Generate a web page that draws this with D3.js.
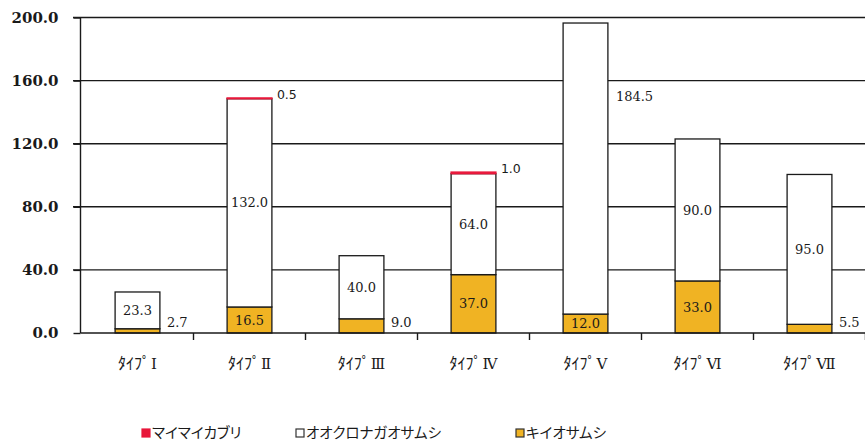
<!DOCTYPE html>
<html>
<head>
<meta charset="utf-8">
<script src="https://cdn.jsdelivr.net/npm/d3@7"></script>
<style>
  html, body { margin: 0; padding: 0; background: #ffffff; }
  svg { display: block; }
</style>
</head>
<body>
<svg id="chart" width="865" height="442"></svg>
<script>
// Categories (beetle habitat types)
const categories = ["ﾀｲﾌﾟ Ⅰ", "ﾀｲﾌﾟ Ⅱ", "ﾀｲﾌﾟ Ⅲ", "ﾀｲﾌﾟ Ⅳ", "ﾀｲﾌﾟ Ⅴ", "ﾀｲﾌﾟ Ⅵ", "ﾀｲﾌﾟ Ⅶ"];

// Series values, stacked bottom to top: キイオサムシ, オオクロナガオサムシ, マイマイカブリ
const kiioValues     = [2.7, 16.5, 9.0, 37.0, 12.0, 33.0, 5.5];
const ookuronaValues = [23.3, 132.0, 40.0, 64.0, 184.5, 90.0, 95.0];
const maimaiValues   = [0, 0.5, 0, 1.0, 0, 0, 0];

const seriesNames = ["マイマイカブリ", "オオクロナガオサムシ", "キイオサムシ"];

// Y-axis ticks
const yTicks = [0, 40, 80, 120, 160, 200];

const colors = { kiio: "#f0b323", ookurona: "#ffffff", maimai: "#e8173a" };

const svg = d3.select("#chart");

const x = d3.scaleBand()
  .domain(categories)
  .range([81.5, 865.5])
  .paddingInner(0.6)
  .paddingOuter(0.3);

const y = d3.scaleLinear().domain([0, 200]).range([333, 17.5]);

const step = x.step();
const bw = x.bandwidth();

// Build stacked rows
const rows = categories.map((c, i) => ({
  cat: c,
  kiio: kiioValues[i],
  ookurona: ookuronaValues[i],
  maimai: maimaiValues[i]
}));
const stack = d3.stack().keys(["kiio", "ookurona", "maimai"])(rows);

// Gridlines with left tick marks
const grid = svg.append("g");
grid.selectAll("line")
  .data(yTicks.filter(t => t > 0))
  .join("line")
  .attr("x1", 73).attr("x2", 865)
  .attr("y1", d => y(d)).attr("y2", d => y(d))
  .attr("stroke", "#1a1a1a").attr("stroke-width", 1.4);

// Y axis
const yAxis = svg.append("g")
  .attr("transform", "translate(80.5,0)")
  .call(d3.axisLeft(y).tickValues(yTicks).tickFormat(d => d.toFixed(1)).tickSize(7).tickPadding(15));
yAxis.select(".domain").attr("stroke", "#1a1a1a").attr("stroke-width", 1.4)
  .attr("d", `M0,${y(200)}V${y(0)}`);
yAxis.selectAll(".tick line").attr("stroke", "#1a1a1a").attr("stroke-width", 1.4);
yAxis.selectAll(".tick text")
  .attr("font-family", "'DejaVu Serif', serif")
  .attr("font-weight", "bold")
  .attr("font-size", 15)
  .attr("fill", "#1a1a1a");

// Bars
const layerColors = ["kiio", "ookurona", "maimai"];
stack.forEach((layer, li) => {
  const key = layerColors[li];
  svg.append("g").selectAll("rect")
    .data(layer.filter(d => d[1] - d[0] > 0))
    .join("rect")
    .attr("x", d => x(d.data.cat))
    .attr("width", bw)
    .attr("y", d => y(d[1]))
    .attr("height", d => y(d[0]) - y(d[1]))
    .attr("fill", colors[key])
    .attr("stroke", key === "maimai" ? colors.maimai : "#1a1a1a")
    .attr("stroke-width", key === "maimai" ? 1.4 : 1.3);
});

// X axis line and boundary ticks
const xAxisG = svg.append("g");
xAxisG.append("line")
  .attr("x1", 80.5).attr("x2", 865)
  .attr("y1", y(0)).attr("y2", y(0))
  .attr("stroke", "#1a1a1a").attr("stroke-width", 1.4);
const bounds = categories.map(c => x(c) + bw / 2 + step / 2);
xAxisG.selectAll("line.tk")
  .data(bounds)
  .join("line")
  .attr("class", "tk")
  .attr("x1", d => d).attr("x2", d => d)
  .attr("y1", y(0)).attr("y2", y(0) + 7)
  .attr("stroke", "#1a1a1a").attr("stroke-width", 1.4);

// Category labels: kana part in gothic, roman numeral in a serif face
const catText = xAxisG.selectAll("text")
  .data(categories)
  .join("text")
  .attr("x", d => x(d) + bw / 2)
  .attr("y", 369)
  .attr("text-anchor", "middle")
  .attr("fill", "#1a1a1a");
catText.append("tspan")
  .attr("font-family", "'Noto Sans CJK JP', sans-serif")
  .attr("font-size", 16)
  .text(d => d.split(" ")[0]);
catText.append("tspan")
  .attr("dx", 1)
  .attr("font-family", "'DejaVu Serif', 'Noto Sans CJK JP', serif")
  .attr("font-size", 15)
  .text(d => d.split(" ")[1]);

// Value labels
const labelFont = "'DejaVu Serif', serif";
const labels = svg.append("g")
  .attr("font-family", labelFont)
  .attr("font-size", 13)
  .attr("fill", "#1a1a1a");

// キイオサムシ: inside the segment when it is tall enough, otherwise to the right
stack[0].forEach(d => {
  const h = y(d[0]) - y(d[1]);
  const inside = h >= 18;
  labels.append("text")
    .attr("x", inside ? x(d.data.cat) + bw / 2 : x(d.data.cat) + bw + 7)
    .attr("y", inside ? (y(d[0]) + y(d[1])) / 2 : y(0) - 11)
    .attr("dy", "0.35em")
    .attr("text-anchor", inside ? "middle" : "start")
    .text(d.data.kiio.toFixed(1));
});

// オオクロナガオサムシ: centred in the segment; the tallest bar carries its label outside
const outsideAt = { "ﾀｲﾌﾟ Ⅴ": 150 };
stack[1].forEach(d => {
  const out = outsideAt[d.data.cat];
  labels.append("text")
    .attr("x", out !== undefined ? x(d.data.cat) + bw + 8 : x(d.data.cat) + bw / 2)
    .attr("y", out !== undefined ? y(out) : (y(d[0]) + y(d[1])) / 2)
    .attr("dy", "0.35em")
    .attr("text-anchor", out !== undefined ? "start" : "middle")
    .text(d.data.ookurona.toFixed(1));
});

// マイマイカブリ: to the right of the bar top
stack[2].filter(d => d[1] - d[0] > 0).forEach(d => {
  labels.append("text")
    .attr("x", x(d.data.cat) + bw + 5)
    .attr("y", y(d[1]) - 3)
    .attr("dy", "0.35em")
    .attr("font-family", "'DejaVu Sans', sans-serif")
    .attr("font-size", 12.5)
    .text(d.data.maimai.toFixed(1));
});

// Legend
const legendItems = [
  { name: seriesNames[0], fill: colors.maimai, stroke: colors.maimai, x: 142 },
  { name: seriesNames[1], fill: "#ffffff", stroke: "#333333", x: 296 },
  { name: seriesNames[2], fill: colors.kiio, stroke: "#333333", x: 516 }
];
const legend = svg.append("g");
legendItems.forEach(it => {
  legend.append("rect")
    .attr("x", it.x).attr("y", 429)
    .attr("width", 8).attr("height", 8)
    .attr("fill", it.fill).attr("stroke", it.stroke).attr("stroke-width", 1.2);
  legend.append("text")
    .attr("x", it.x + 10).attr("y", 433)
    .attr("dy", "0.35em")
    .attr("font-family", "'Noto Sans CJK JP', sans-serif")
    .attr("font-size", 14.5)
    .attr("fill", "#1a1a1a")
    .style("font-feature-settings", "'palt'")
    .text(it.name);
});
</script>
</body>
</html>
